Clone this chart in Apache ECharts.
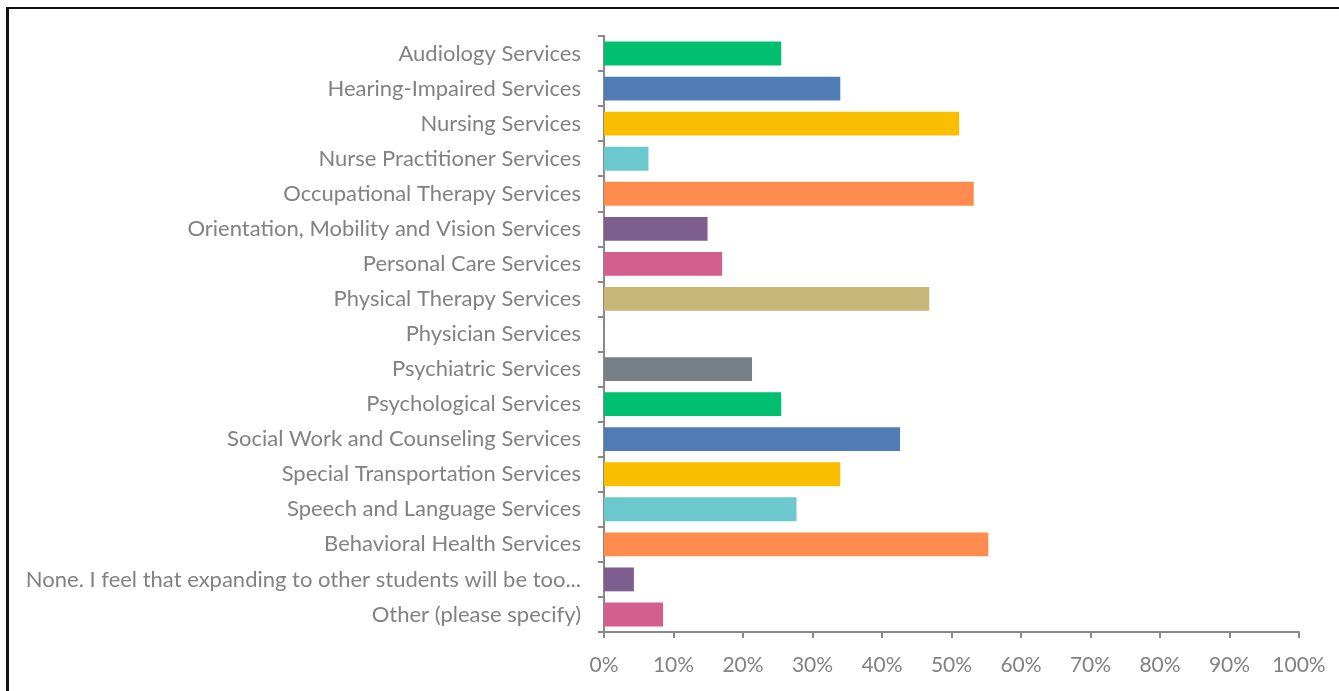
<!DOCTYPE html>
<html>
<head>
<meta charset="utf-8">
<script src="https://cdn.jsdelivr.net/npm/echarts@6/dist/echarts.min.js"></script>
<style>
  html, body { margin: 0; padding: 0; background: #fff; }
  #frame { position: absolute; left: 6px; top: 7px; width: 1400px; height: 800px;
           border-top: 2px solid #111; border-left: 3px solid #111; box-sizing: border-box; }
  #chart { position: absolute; left: 0; top: 0; width: 1339px; height: 691px; }
</style>
</head>
<body>
<div id="frame"></div>
<div id="chart"></div>
<script>
const categories = [
  "Audiology Services",
  "Hearing-Impaired Services",
  "Nursing Services",
  "Nurse Practitioner Services",
  "Occupational Therapy Services",
  "Orientation, Mobility and Vision Services",
  "Personal Care Services",
  "Physical Therapy Services",
  "Physician Services",
  "Psychiatric Services",
  "Psychological Services",
  "Social Work and Counseling Services",
  "Special Transportation Services",
  "Speech and Language Services",
  "Behavioral Health Services",
  "None. I feel that expanding to other students will be too...",
  "Other (please specify)"
];
const percentValues = [25.5, 34.0, 51.1, 6.4, 53.2, 14.9, 17.0, 46.8, 0, 21.3, 25.5, 42.6, 34.0, 27.7, 55.3, 4.3, 8.5];
const tickLabels = ["0%", "10%", "20%", "30%", "40%", "50%", "60%", "70%", "80%", "90%", "100%"];
const palette = ["#00BF6F", "#507CB6", "#F9BE00", "#6BC8CD", "#FF8B4F", "#7D5E8E", "#D35F8F", "#C9B77A", "#A3A3A3", "#768086"];

const chart = echarts.init(document.getElementById('chart'), null, { renderer: 'canvas' });
const textColor = '#828282';
const axisColor = '#898989';
const font = 'Lato, Carlito, "Open Sans", sans-serif';

chart.setOption({
  animation: false,
  backgroundColor: 'transparent',
  grid: { left: 604, right: 40, top: 36, bottom: 59, containLabel: false },
  xAxis: {
    type: 'value', min: 0, max: 100, interval: 10,
    axisLine: { show: true, lineStyle: { color: axisColor, width: 2 } },
    axisTick: { show: true, length: 6, lineStyle: { color: axisColor, width: 2 } },
    splitLine: { show: false },
    axisLabel: {
      margin: 23, color: textColor, fontSize: 21, fontFamily: font,
      formatter: function (v) { return tickLabels[Math.round(v / 10)]; }
    }
  },
  yAxis: {
    type: 'category', data: categories, inverse: true,
    axisLine: { show: true, lineStyle: { color: axisColor, width: 2 } },
    axisTick: { show: true, length: 6, alignWithLabel: false, lineStyle: { color: axisColor, width: 2 } },
    axisLabel: { margin: 23, color: textColor, fontSize: 22, fontFamily: font, interval: 0 },
    splitLine: { show: false }
  },
  series: [{
    type: 'bar',
    barCategoryGap: '32%',
    data: percentValues.map(function (v, i) {
      return { value: v, itemStyle: { color: palette[i % palette.length] } };
    })
  }]
});
</script>
</body>
</html>
